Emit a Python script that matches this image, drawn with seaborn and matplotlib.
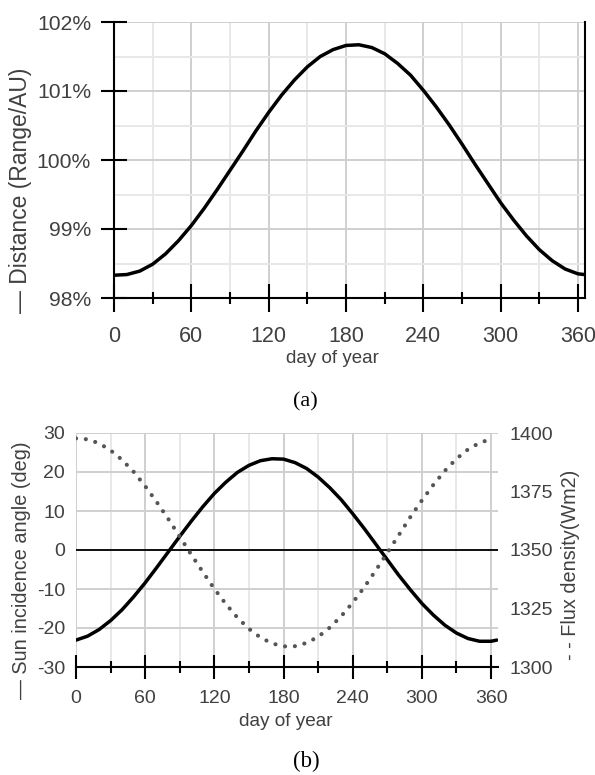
import matplotlib
matplotlib.use("Agg")
import matplotlib.pyplot as plt
from matplotlib import font_manager
from matplotlib.ticker import MultipleLocator, FixedLocator
import seaborn as sns

# ---- data -------------------------------------------------------------
days = [0, 10, 20, 30, 40, 50, 60, 70, 80, 90, 100, 110, 120, 130, 140, 150,
        160, 170, 180, 190, 200, 210, 220, 230, 240, 250, 260, 270, 280, 290,
        300, 310, 320, 330, 340, 350, 360, 365]

# Sun-Earth distance as percent of 1 AU
distance_pct = [98.33, 98.34, 98.39, 98.49, 98.64, 98.83, 99.05, 99.30, 99.57,
                99.85, 100.13, 100.42, 100.69, 100.94, 101.16, 101.35, 101.50,
                101.60, 101.66, 101.67, 101.63, 101.54, 101.40, 101.23, 101.01,
                100.77, 100.51, 100.23, 99.94, 99.66, 99.38, 99.13, 98.90,
                98.70, 98.54, 98.42, 98.35, 98.34]

# Sun incidence angle (deg)
incidence_deg = [-23.1, -22.1, -20.4, -18.1, -15.3, -12.0, -8.4, -4.5, -0.5,
                 3.5, 7.4, 11.1, 14.5, 17.4, 19.9, 21.7, 22.9, 23.4, 23.3,
                 22.4, 20.9, 18.7, 16.0, 12.9, 9.3, 5.5, 1.5, -2.5, -6.5,
                 -10.2, -13.7, -16.7, -19.3, -21.3, -22.7, -23.4, -23.4, -23.1]

# Solar flux density (W/m2)
flux_days = [0, 10, 20, 30, 40, 50, 60, 70, 80, 90, 100, 110, 120, 130, 140,
             150, 160, 170, 180, 190, 200, 210, 220, 230, 240, 250, 260, 270,
             280, 290, 300, 310, 320, 330, 340, 350, 360]
flux_wm2 = [1397.7, 1397.3, 1395.6, 1392.6, 1388.5, 1383.4, 1377.3, 1370.5,
            1363.3, 1355.7, 1348.0, 1340.6, 1333.4, 1326.9, 1321.1, 1316.3,
            1312.6, 1310.1, 1308.8, 1308.9, 1310.3, 1312.9, 1316.8, 1321.7,
            1327.5, 1334.1, 1341.3, 1348.8, 1356.4, 1364.1, 1371.2, 1377.9,
            1383.9, 1389.0, 1393.0, 1395.8, 1397.4]

x_ticks = [0, 60, 120, 180, 240, 300, 360]
dist_ticks = [98, 99, 100, 101, 102]
dist_labels = ["98%", "99%", "100%", "101%", "102%"]
angle_ticks = [-30, -20, -10, 0, 10, 20, 30]
flux_ticks = [1300, 1325, 1350, 1375, 1400]

# ---- style ------------------------------------------------------------
sns.set_style("white")
names = {f.name for f in font_manager.fontManager.ttflist}
SANS = "Liberation Sans" if "Liberation Sans" in names else "DejaVu Sans"
SERIF = "Liberation Serif" if "Liberation Serif" in names else "DejaVu Serif"
plt.rcParams["font.family"] = [SANS, "DejaVu Sans"]

TXT = "#404040"
GRID_MAJ = "#cfcfcf"
GRID_MIN = "#e8e8e8"
LW_AX = 1.5

W, H = 595, 775
fig = plt.figure(figsize=(W / 100, H / 100), dpi=100)


def box(l, t, r, b):
    return [l / W, 1 - b / H, (r - l) / W, (b - t) / H]


# ---- panel (a): distance ---------------------------------------------
ax1 = fig.add_axes(box(114, 22, 585, 298))
sns.lineplot(x=days, y=distance_pct, ax=ax1, color="black", linewidth=2.5)
ax1.set_xlim(0, 365.4)
ax1.set_ylim(98, 102)
ax1.xaxis.set_major_locator(FixedLocator(x_ticks))
ax1.xaxis.set_minor_locator(MultipleLocator(30))
ax1.yaxis.set_major_locator(FixedLocator(dist_ticks))
ax1.yaxis.set_minor_locator(MultipleLocator(0.5))
ax1.set_yticklabels(dist_labels, fontsize=15.2, color=TXT)
ax1.set_xticklabels([str(v) for v in x_ticks], fontsize=15.5, color=TXT)
ax1.grid(which="major", color=GRID_MAJ, linewidth=1.4)
ax1.grid(which="minor", color=GRID_MIN, linewidth=1.4)
ax1.set_axisbelow(True)
for side in ("left", "bottom", "right"):
    ax1.spines[side].set_visible(True)
    ax1.spines[side].set_color("black")
    ax1.spines[side].set_linewidth(LW_AX)
ax1.spines["top"].set_visible(False)
ax1.tick_params(axis="x", which="major", direction="inout", length=20,
                width=LW_AX, color="black", pad=10, bottom=True)
ax1.tick_params(axis="x", which="minor", direction="inout", length=9,
                width=LW_AX, color="black", bottom=True)
ax1.tick_params(axis="y", which="major", direction="inout", length=19,
                width=LW_AX, color="black", pad=7, left=True)
ax1.tick_params(axis="y", which="minor", length=0)
ax1.set_xlabel("")
ax1.set_ylabel("")

fig.text(21 / W, 1 - 190 / H, "\u2014 Distance (Range/AU)", rotation=90,
         ha="center", va="center", fontsize=16.5, color=TXT)
fig.text(332 / W, 1 - 359 / H, "day of year", ha="center", va="center",
         fontsize=13.5, color=TXT)
fig.text(305 / W, 1 - 402 / H, "(a)", ha="center", va="center",
         fontsize=16, family=SERIF, color="black")

# ---- panel (b): incidence angle and flux ------------------------------
ax3 = fig.add_axes(box(76, 433, 498, 667))
ax3.axhline(0, color="black", linewidth=1.3, zorder=1.5)
sns.lineplot(x=days, y=incidence_deg, ax=ax3, color="black", linewidth=2.5,
             zorder=3)
ax3.set_xlim(0, 366)
ax3.set_ylim(-30, 30)
ax3.xaxis.set_major_locator(FixedLocator(x_ticks))
ax3.xaxis.set_minor_locator(MultipleLocator(30))
ax3.yaxis.set_major_locator(FixedLocator(angle_ticks))
ax3.set_xticklabels([str(v) for v in x_ticks], fontsize=14, color=TXT)
ax3.set_yticklabels([str(v) for v in angle_ticks], fontsize=14, color=TXT)
ax3.grid(which="major", color=GRID_MAJ, linewidth=1.4)
ax3.grid(which="minor", axis="x", color=GRID_MIN, linewidth=1.4)
ax3.set_axisbelow(True)
for side in ("left", "top", "right"):
    ax3.spines[side].set_visible(False)
ax3.spines["bottom"].set_visible(True)
ax3.spines["bottom"].set_color("black")
ax3.spines["bottom"].set_linewidth(LW_AX)
ax3.tick_params(axis="x", which="major", direction="inout", length=17,
                width=LW_AX, color="black", pad=8, bottom=True)
ax3.tick_params(axis="x", which="minor", direction="inout", length=8,
                width=LW_AX, color="black", bottom=True)
ax3.tick_params(axis="y", length=0, pad=8)
ax3.set_xlabel("")
ax3.set_ylabel("")

ax4 = ax3.twinx()
sns.lineplot(x=flux_days, y=flux_wm2, ax=ax4, color="#555555", linewidth=3.0,
             linestyle=(0, (0.01, 2.35)), dash_capstyle="round")
ax4.set_ylim(1300, 1400)
ax4.yaxis.set_major_locator(FixedLocator(flux_ticks))
ax4.set_yticklabels([str(v) for v in flux_ticks], fontsize=14, color=TXT)
ax4.tick_params(axis="y", length=0, pad=8)
ax4.grid(False)
for side in ax4.spines:
    ax4.spines[side].set_visible(False)
ax4.set_ylabel("")
ax4.set_xlabel("")

fig.text(22 / W, 1 - 570 / H, "\u2014 Sun incidence angle (deg)", rotation=90,
         ha="center", va="center", fontsize=14.3, color=TXT)
fig.text(570 / W, 1 - 565 / H, "- - Flux density(Wm2)", rotation=90,
         ha="center", va="center", fontsize=14.3, color=TXT)
fig.text(286 / W, 1 - 722 / H, "day of year", ha="center", va="center",
         fontsize=13.7, color=TXT)
fig.text(306 / W, 1 - 761 / H, "(b)", ha="center", va="center",
         fontsize=16.5, family=SERIF, color="black")

fig.savefig("out.png", dpi=100)
